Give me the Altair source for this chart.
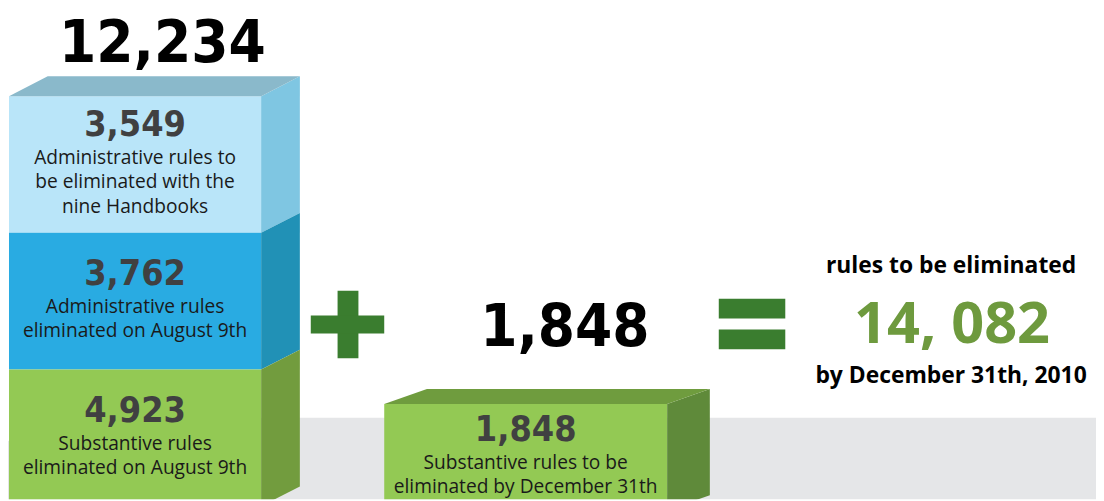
import altair as alt
import pandas as pd

# ---------------- data ----------------
segment_values = [3549, 3762, 4923]          # stack, top -> bottom
segment_lines = [
    ["Administrative rules to", "be eliminated with the", "nine Handbooks"],
    ["Administrative rules", "eliminated on August 9th"],
    ["Substantive rules", "eliminated on August 9th"],
]
new_value = 1848
new_lines = ["Substantive rules to be", "eliminated by December 31th"]
summary_top = "rules to be eliminated"
summary_bottom = "by December 31th, 2010"

stack_total = sum(segment_values)            # 12,234
grand_total = stack_total + new_value        # 14,082

# ---------------- style ----------------
seg_front = ["#b9e5f9", "#29abe2", "#93c954"]
seg_side = ["#7fc6e2", "#2191b6", "#729c3e"]
stack_top_col = "#8ab9cb"
new_front, new_side, new_top = "#93c954", "#5f8a3a", "#6f9c3e"
floor_col = "#e5e6e8"
op_col = "#3a7d2f"
num_grey = "#404041"
txt_col = "#1a1a1a"
green_txt = "#6e9a3e"
HEAVY = "DejaVu Sans Condensed, DejaVu Sans"
BODY = "Open Sans"

# ---------------- layout (pixel space) ----------------
W, H = 1096, 493
L_X0, L_X1, L_TOP, L_SEG_H, L_DX, L_DY = 1, 255, 87, 137.7, 39, 20
R_X0, R_X1, R_TOP, R_BOT, R_DX, R_DY = 379, 664, 397, 504, 43, 15
NUM_CAP, GAP, LINE, DESC = 25, 28, 24.5, 5

fronts, sides, tops, labels_num, labels_txt = [], [], [], [], []


def block(top, bot, xc, number, lines):
    center = (top + bot) / 2
    height = NUM_CAP + GAP + (len(lines) - 1) * LINE + DESC
    b = center - height / 2 + NUM_CAP
    labels_num.append({"x": xc, "y": b, "t": f"{number:,}"})
    for k, ln in enumerate(lines):
        labels_txt.append({"x": xc, "y": b + GAP + k * LINE, "t": ln})


# left stack
for i, (v, lines) in enumerate(zip(segment_values, segment_lines)):
    yt = L_TOP + i * L_SEG_H
    yb = yt + L_SEG_H
    fronts.append({"x": L_X0, "x2": L_X1, "y": yt, "y2": yb, "c": seg_front[i]})
    sides += [
        {"f": f"L{i}", "x": L_X1, "y": yt, "y2": yb, "c": seg_side[i]},
        {"f": f"L{i}", "x": L_X1 + L_DX, "y": yt - L_DY, "y2": yb - L_DY, "c": seg_side[i]},
    ]
    block(yt, yb, (L_X0 + L_X1) / 2, v, lines)
tops += [
    {"f": "LT", "y": L_TOP, "x": L_X0, "x2": L_X1, "c": stack_top_col},
    {"f": "LT", "y": L_TOP - L_DY, "x": L_X0 + L_DX, "x2": L_X1 + L_DX, "c": stack_top_col},
]

# right (new) bar
fronts.append({"x": R_X0, "x2": R_X1, "y": R_TOP, "y2": R_BOT, "c": new_front})
sides += [
    {"f": "R", "x": R_X1, "y": R_TOP, "y2": R_BOT, "c": new_side},
    {"f": "R", "x": R_X1 + R_DX, "y": R_TOP - R_DY, "y2": R_BOT - R_DY, "c": new_side},
]
tops += [
    {"f": "RT", "y": R_TOP, "x": R_X0, "x2": R_X1, "c": new_top},
    {"f": "RT", "y": R_TOP - R_DY, "x": R_X0 + R_DX, "x2": R_X1 + R_DX, "c": new_top},
]
block(R_TOP, R_BOT, (R_X0 + R_X1) / 2, new_value, new_lines)

floor = pd.DataFrame([
    {"x": -8, "y": 441, "y2": H + 20},
    {"x": 30, "y": 411, "y2": H + 20},
    {"x": W + 20, "y": 411, "y2": H + 20},
])

ops = pd.DataFrame([
    {"x": 332, "x2": 353, "y": 283, "y2": 351},   # plus vertical
    {"x": 305, "x2": 379, "y": 308, "y2": 326},   # plus horizontal
    {"x": 716, "x2": 783, "y": 291, "y2": 311},   # equals top
    {"x": 716, "x2": 783, "y": 322, "y2": 342},   # equals bottom
])

big_nums = pd.DataFrame([
    {"x": (L_X0 + L_X1 + L_DX) / 2 + 8, "y": 53, "t": f"{stack_total:,}"},
    {"x": 561, "y": 339, "t": f"{new_value:,}"},
])
summary = pd.DataFrame([
    {"x": 950, "y": 265, "t": summary_top, "s": 23},
    {"x": 950, "y": 376, "t": summary_bottom, "s": 23},
])
grand = pd.DataFrame([{"x": 951, "y": 336, "t": f"{grand_total:,}".replace(",", ", ")}])

X = alt.X("x:Q", scale=alt.Scale(domain=[0, W], nice=False, zero=False), axis=None)
Y = alt.Y("y:Q", scale=alt.Scale(domain=[0, H], reverse=True, nice=False, zero=False), axis=None)
C = alt.Color("c:N", scale=None)

floor_l = alt.Chart(floor).mark_area(color=floor_col, clip=True, orient="vertical").encode(
    x=X, y=Y, y2="y2:Q")
front_l = alt.Chart(pd.DataFrame(fronts)).mark_rect(clip=True).encode(
    x=X, x2="x2:Q", y=Y, y2="y2:Q", color=C)
side_l = alt.Chart(pd.DataFrame(sides)).mark_area(clip=True, orient="vertical").encode(
    x=X, y=Y, y2="y2:Q", detail="f:N", color=C)
top_l = alt.Chart(pd.DataFrame(tops)).mark_area(clip=True, orient="horizontal").encode(
    y=Y, x=X, x2="x2:Q", detail="f:N", color=C)
ops_l = alt.Chart(ops).mark_rect(color=op_col).encode(x=X, x2="x2:Q", y=Y, y2="y2:Q")

big_l = alt.Chart(big_nums).mark_text(font=HEAVY, fontSize=60, fontWeight="bold",
                                      color="#000000", align="center", baseline="alphabetic").encode(
    x=X, y=Y, text="t:N")
num_l = alt.Chart(pd.DataFrame(labels_num)).mark_text(font=HEAVY, fontSize=36, fontWeight="bold",
                                                       color=num_grey, align="center",
                                                       baseline="alphabetic").encode(
    x=X, y=Y, text="t:N")
txt_l = alt.Chart(pd.DataFrame(labels_txt)).mark_text(font=BODY, fontSize=19.3, color=txt_col,
                                                       align="center", baseline="alphabetic",
                                                       clip=True).encode(
    x=X, y=Y, text="t:N")
sum_l = alt.Chart(summary).mark_text(font=BODY, fontWeight="bold", color="#000000",
                                     align="center", baseline="alphabetic").encode(
    x=X, y=Y, text="t:N", size=alt.Size("s:Q", scale=None, legend=None))
grand_l = alt.Chart(grand).mark_text(font=BODY, fontSize=58, fontWeight="bold", color=green_txt,
                                     align="center", baseline="alphabetic").encode(
    x=X, y=Y, text="t:N")

chart = alt.layer(floor_l, front_l, side_l, top_l, ops_l, big_l, num_l, txt_l, sum_l, grand_l).properties(
    width=W, height=H, padding=0, autosize=alt.AutoSizeParams(type="none"),
    background="#ffffff",
).configure_view(stroke=None)

chart.save("out.html", embed_options={"renderer": "svg", "actions": False})
